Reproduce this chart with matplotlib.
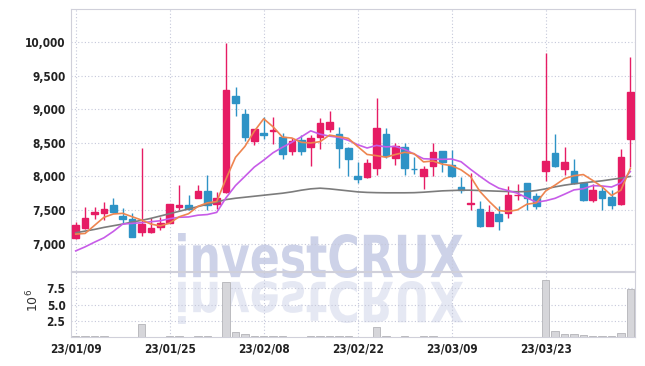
import numpy as np
import matplotlib.pyplot as plt
from matplotlib.patches import PathPatch
from matplotlib.textpath import TextPath
from matplotlib.font_manager import FontProperties
from matplotlib.transforms import Affine2D

# datos (60 ruedas, 2023-01-09 .. 2023-04-05)
opens = [7075, 7224, 7433, 7458, 7572, 7408, 7363, 7174, 7174, 7249,
         7308, 7547, 7572, 7686, 7776, 7582, 7771, 9199, 8930, 8532,
         8642, 8677, 8592, 8383, 8542, 8443, 8592, 8711, 8627, 8418,
         8005, 7985, 8119, 8632, 8269, 8433, 8114, 8010, 8154, 8373,
         8169, 7841, 7595, 7512, 7264, 7438, 7448, 7722, 7896, 7706,
         8085, 8353, 8104, 8080, 7896, 7647, 7781, 7687, 7587, 8552]
highs = [7323, 7547, 7547, 7622, 7686, 7532, 7448, 8418, 7373, 7388,
         7590, 7870, 7721, 7866, 8020, 7771, 9985, 9328, 9010, 8710,
         8881, 8881, 8652, 8567, 8617, 8617, 8866, 8970, 8741, 8443,
         8209, 8254, 9164, 8716, 8502, 8502, 8294, 8154, 8493, 8380,
         8393, 7995, 8050, 7637, 7572, 7557, 7856, 7886, 7905, 7756,
         9836, 8632, 8443, 8254, 7920, 7881, 7846, 7796, 8403, 9776]
lows = [7060, 7209, 7358, 7348, 7458, 7299, 7100, 7109, 7164, 7199,
        7300, 7498, 7498, 7672, 7507, 7522, 7756, 8900, 8527, 8468,
        8552, 8478, 8254, 8318, 8318, 8159, 8408, 8667, 8119, 8010,
        7905, 7980, 8020, 8269, 8169, 8020, 8035, 7806, 8005, 8070,
        7995, 7746, 7500, 7249, 7260, 7199, 7373, 7647, 7498, 7522,
        7935, 8144, 8015, 7890, 7637, 7622, 7507, 7522, 7580, 8134]
closes = [7274, 7373, 7468, 7512, 7468, 7368, 7100, 7289, 7224, 7313,
          7587, 7577, 7517, 7776, 7572, 7686, 9289, 9100, 8592, 8701,
          8617, 8691, 8328, 8527, 8383, 8567, 8791, 8811, 8418, 8254,
          7955, 8204, 8721, 8303, 8453, 8119, 8104, 8104, 8368, 8219,
          8005, 7796, 7600, 7264, 7463, 7338, 7721, 7726, 7682, 7562,
          8229, 8154, 8214, 7896, 7647, 7796, 7672, 7572, 8289, 9259]

ma_naranja = [7140, 7150, 7270, 7390, 7440, 7450, 7400, 7350, 7290, 7262,
              7305, 7398, 7444, 7554, 7606, 7626, 7966, 8285, 8448, 8674,
              8860, 8740, 8586, 8573, 8509, 8499, 8519, 8616, 8594, 8568,
              8446, 8328, 8310, 8287, 8327, 8360, 8340, 8217, 8230, 8183,
              8160, 8098, 7998, 7777, 7626, 7492, 7477, 7502, 7586, 7606,
              7784, 7871, 7968, 8011, 8028, 7941, 7845, 7717, 7795, 8118]
ma_violeta = [6890, 6950, 7020, 7085, 7180, 7290, 7300, 7310, 7325, 7339,
              7370, 7391, 7396, 7422, 7432, 7464, 7683, 7864, 8001, 8140,
              8243, 8354, 8435, 8510, 8591, 8680, 8630, 8601, 8583, 8539,
              8473, 8424, 8463, 8441, 8448, 8403, 8334, 8264, 8259, 8255,
              8260, 8219, 8107, 8003, 7904, 7826, 7788, 7750, 7681, 7616,
              7638, 7674, 7735, 7799, 7817, 7863, 7858, 7842, 7903, 8073]
ma_gris = [7160, 7185, 7210, 7240, 7265, 7290, 7320, 7345, 7375, 7410,
           7445, 7480, 7515, 7550, 7585, 7620, 7655, 7675, 7690, 7705,
           7720, 7735, 7750, 7770, 7795, 7815, 7825, 7815, 7800, 7785,
           7770, 7762, 7758, 7756, 7756, 7756, 7758, 7765, 7775, 7785,
           7790, 7795, 7795, 7790, 7785, 7780, 7775, 7772, 7775, 7790,
           7815, 7845, 7870, 7890, 7905, 7920, 7935, 7955, 7975, 8000]

# volumen en millones
volumen = [0.08, 0.08, 0.08, 0.08, 0, 0, 0, 2.05, 0, 0,
           0.08, 0.08, 0, 0.08, 0.08, 0, 8.5, 0.75, 0.45, 0.12,
           0.2, 0.1, 0.1, 0, 0, 0.1, 0.2, 0.1, 0.1, 0.1,
           0, 0, 1.6, 0.1, 0, 0.1, 0, 0.1, 0.1, 0,
           0, 0, 0, 0, 0, 0, 0, 0, 0, 0,
           8.7, 0.9, 0.5, 0.5, 0.35, 0.12, 0.12, 0.12, 0.65, 7.35]

pos_fechas = [0, 10, 20, 30, 40, 50]
etiquetas_fechas = ["23/01/09", "23/01/25", "23/02/08", "23/02/22", "23/03/09", "23/03/23"]

#%%
W, H = 645, 366
fig = plt.figure(figsize=(W / 100, H / 100), dpi=100)


def caja(l, t, r, b):
    return [l / W, 1 - b / H, (r - l) / W, (b - t) / H]


ax = fig.add_axes(caja(71, 9, 635, 271))
axv = fig.add_axes(caja(71, 272, 635, 337), sharex=ax)

fuente = FontProperties(family="DejaVu Sans", stretch="condensed", weight="bold", size=8.5)
color_borde = "#d0d0da"
color_grilla = "#c5c8da"

x = np.arange(len(closes))
o = np.array(opens)
c = np.array(closes)
sube = c >= o
col = np.where(sube, "#e61c64", "#2e93c6")

ax.vlines(x, lows, highs, colors=col, linewidth=1.0, zorder=3)
ax.bar(x, np.abs(c - o), bottom=np.minimum(o, c), width=0.7,
       color=col, edgecolor=col, linewidth=1.0, zorder=4)

ax.plot(x, ma_gris, color="#7c7c7c", linewidth=1.2, zorder=5)
ax.plot(x, ma_violeta, color="#c75ce8", linewidth=1.2, zorder=5)
ax.plot(x, ma_naranja, color="#ee8550", linewidth=1.2, zorder=5)

ax.set_xlim(-0.5, 59.5)
ax.set_ylim(6590, 10497)
ax.set_yticks(range(7000, 10001, 500))
ax.set_yticklabels([f"{v:,}" for v in range(7000, 10001, 500)])

vol = np.array(volumen) * 1e6
hay = vol > 0
axv.bar(x[hay], vol[hay], width=0.8, color="#d6d6da", edgecolor="#b4b4b8", linewidth=0.6, zorder=3)
axv.set_ylim(0, 10.0e6)
axv.set_yticks([2.5e6, 5e6, 7.5e6])
axv.set_yticklabels(["2.5", "5.0", "7.5"])
axv.set_xticks(pos_fechas)
axv.set_xticklabels(etiquetas_fechas)

for a in (ax, axv):
    a.set_facecolor("none")
    a.grid(True, linestyle=(0, (1, 2)), color=color_grilla, linewidth=0.8)
    a.set_axisbelow(True)
    for s in a.spines.values():
        s.set_color(color_borde)
    a.tick_params(length=0, pad=4, colors="#222222")
    for t in a.get_xticklabels() + a.get_yticklabels():
        t.set_fontproperties(fuente)
ax.tick_params(labelbottom=False)

fig.text(33 / W, 1 - 300 / H, r"$10^6$", rotation=90, fontsize=9,
         color="#333333", ha="center", va="center")

# marca de agua con reflejo
tp = TextPath((0, 0), "investCRUX", size=1,
              prop=FontProperties(family="DejaVu Sans", weight="bold"))
bb = tp.get_extents()


def marca(l, t, r, b, invertir, alfa):
    sx = (r - l) / bb.width / W
    sy = (b - t) / bb.height / H
    if invertir:
        tr = Affine2D().translate(-bb.x0, -bb.y0).scale(sx, -sy).translate(l / W, 1 - t / H)
    else:
        tr = Affine2D().translate(-bb.x0, -bb.y0).scale(sx, sy).translate(l / W, 1 - b / H)
    p = PathPatch(tp, transform=tr + fig.transFigure, facecolor="#cdd2e8",
                  edgecolor="none", alpha=alfa, zorder=-1)
    fig.add_artist(p)


marca(178, 233, 463, 278, False, 1.0)
marca(178, 281, 463, 324, True, 0.5)

fig.savefig("out.png", dpi=100)
